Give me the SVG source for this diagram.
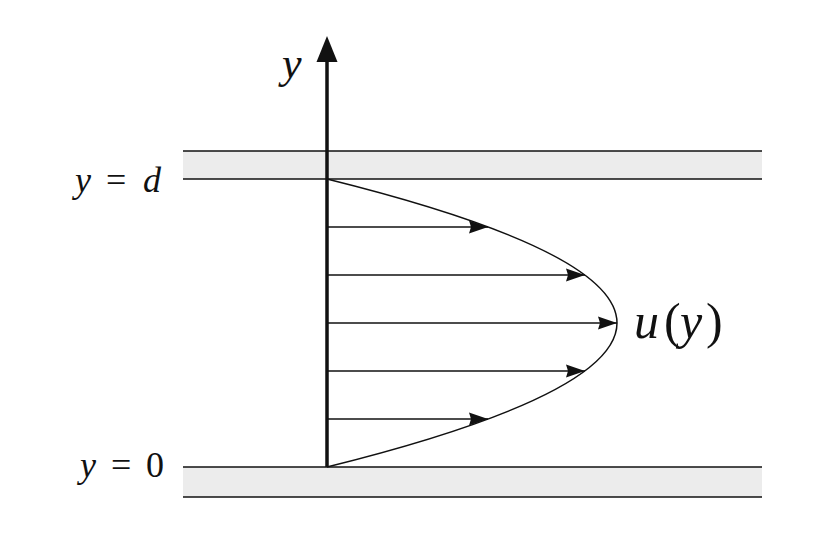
<svg xmlns="http://www.w3.org/2000/svg" width="830" height="536" viewBox="0 0 830 536">
<style>
.plate{fill:#ececec;stroke:none}
.wall{stroke:#111;stroke-width:1.6;fill:none}
.vec{stroke:#111;stroke-width:1.5;fill:none}
.lbl{font-style:italic;fill:#111}
.num{fill:#111}
</style>
<defs>
<marker id="ah" markerWidth="20" markerHeight="14" refX="19" refY="7" orient="auto" markerUnits="userSpaceOnUse">
<path d="M0,0.5 L19,7 L0,13.5 L2,7 Z" fill="#111"/>
</marker>
</defs>
<rect width="830" height="536" fill="#fff"/>
<g id="plate-top">
<rect class="plate" x="183" y="151" width="579" height="28"/>
<line class="wall" x1="183" y1="151" x2="762" y2="151"/>
<line class="wall" x1="183" y1="179" x2="762" y2="179"/>
</g>
<g id="plate-bottom">
<rect class="plate" x="183" y="467" width="579" height="30"/>
<line class="wall" x1="183" y1="467" x2="762" y2="467"/>
<line class="wall" x1="183" y1="497" x2="762" y2="497"/>
</g>
<g id="profile">
<path d="M327,179 Q907,323 327,467" fill="none" stroke="#111" stroke-width="1.5"/>
</g>
<g id="connectors">
<line class="vec" x1="327" y1="227" x2="488" y2="227" marker-end="url(#ah)"/>
<line class="vec" x1="327" y1="275" x2="585" y2="275" marker-end="url(#ah)"/>
<line class="vec" x1="327" y1="323" x2="617" y2="323" marker-end="url(#ah)"/>
<line class="vec" x1="327" y1="371" x2="585" y2="371" marker-end="url(#ah)"/>
<line class="vec" x1="327" y1="419" x2="488" y2="419" marker-end="url(#ah)"/>
</g>
<g id="axis">
<line x1="327" y1="467" x2="327" y2="60" stroke="#111" stroke-width="3.5"/>
<path d="M327,36 L337.5,62 L316.5,62 Z" fill="#111"/>
<text class="lbl" font-family="Liberation Serif, Times New Roman, serif" x="282" y="78" font-size="44">y</text>
</g>
<g id="label-d" font-family="Liberation Serif, Times New Roman, serif">
<text class="lbl" x="75" y="192" font-size="36">y</text>
<text class="num" x="106" y="192" font-size="36">=</text>
<text class="lbl" x="143" y="192" font-size="36">d</text>
</g>
<g id="label-0" font-family="Liberation Serif, Times New Roman, serif">
<text class="lbl" x="80" y="477" font-size="36">y</text>
<text class="num" x="111" y="477" font-size="36">=</text>
<text class="num" x="146" y="477" font-size="36">0</text>
</g>
<g id="label-u" font-family="Liberation Serif, Times New Roman, serif">
<text class="lbl" x="634" y="338" font-size="50">u</text>
<text class="num" x="664" y="338" font-size="50">(</text>
<text class="lbl" x="680" y="338" font-size="50">y</text>
<text class="num" x="706" y="338" font-size="50">)</text>
</g>
</svg>
